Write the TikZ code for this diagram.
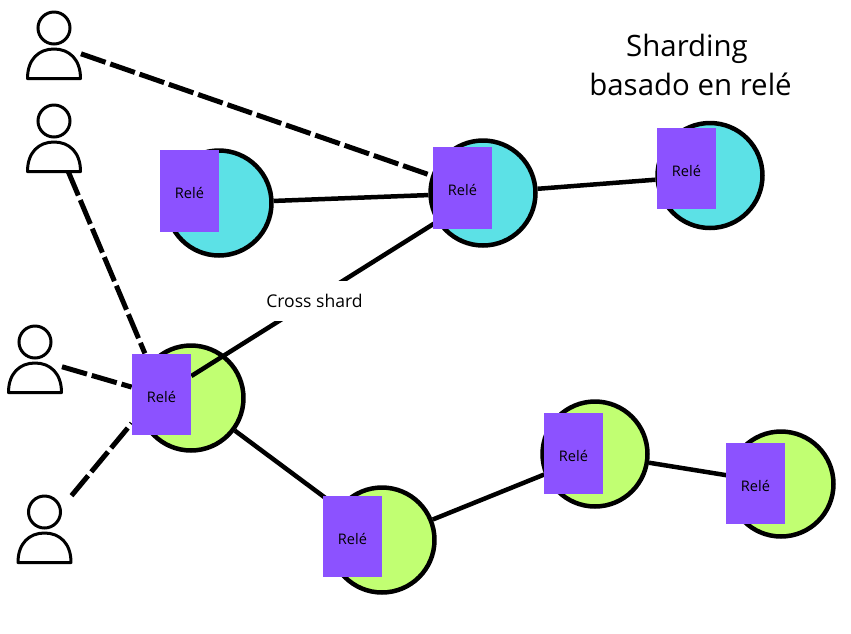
\documentclass[tikz,border=0pt]{standalone}
\usepackage{fontspec}
\setmainfont{Open Sans}
\pgfdeclarelayer{circulos}
\pgfdeclarelayer{lineas}
\pgfsetlayers{circulos,lineas,main}
\definecolor{azulnodo}{HTML}{5CE1E6}
\definecolor{verdenodo}{HTML}{C1FF72}
\definecolor{moradorele}{HTML}{8C52FF}
\tikzset{
    nodoazul/.style={circle,draw=black,line width=0.09cm,fill=azulnodo,minimum size=2.1cm,inner sep=0pt},
    nodoverde/.style={circle,draw=black,line width=0.09cm,fill=verdenodo,minimum size=2.1cm,inner sep=0pt},
    rele/.style={rectangle,fill=moradorele,minimum width=1.18cm,minimum height=1.63cm,inner sep=0pt,text height=9pt,text depth=0pt,font=\fontsize{8.3}{10}\selectfont},
    linea/.style={line width=0.09cm},
    punteada/.style={line width=0.1cm,dash pattern=on 0.52cm off 0.1cm},
    hueco/.style={minimum width=1.08cm,minimum height=1.34cm,inner sep=0pt,outer sep=0pt},
    usuario/.pic={
        \draw[line width=0.06cm] (0,-17) circle (0.32cm);
        \draw[line width=0.06cm,line join=round] (-26.5,33.5) .. controls (-26.5,14) and (-15,4) .. (0,4) .. controls (15,4) and (26.5,14) .. (26.5,33.5) -- cycle;
    }
}
\begin{document}
\begin{tikzpicture}[x=0.02cm,y=-0.02cm]
    \useasboundingbox (0,0) rectangle (851,633);

    \node[align=center,font=\fontsize{16.75}{22.7}\selectfont] (titulo) at (690.5,65) {Sharding\hspace*{0.14cm}\\basado en relé};

    \node[rele] (rb1) at (189.5,191) {Relé};
    \node[rele] (rb2) at (462.5,188) {Relé};
    \node[rele] (rb3) at (686.5,168.5) {Relé};
    \node[rele] (rg1) at (161.5,394.5) {Relé};
    \node[rele] (rg2) at (352.5,536.5) {Relé};
    \node[rele] (rg3) at (573.5,453.5) {Relé};
    \node[rele] (rg4) at (755.5,483.5) {Relé};

    \node[hueco] (u1) at (54,45) {};
    \node[hueco] (u2) at (54,138) {};
    \node[hueco] (u3) at (35,359) {};
    \node[hueco] (u4) at (44.5,529) {};
    \pic at (u1) {usuario};
    \pic at (u2) {usuario};
    \pic at (u3) {usuario};
    \pic at (u4) {usuario};

    \begin{pgfonlayer}{circulos}
        \node[nodoazul] (b1) at (219,203) {};
        \node[nodoazul] (b2) at (483,193) {};
        \node[nodoazul] (b3) at (710,175.5) {};
        \node[nodoverde] (g1) at (191,398) {};
        \node[nodoverde] (g2) at (382,540) {};
        \node[nodoverde] (g3) at (595,454) {};
        \node[nodoverde] (g4) at (781,484) {};
    \end{pgfonlayer}

    \begin{pgfonlayer}{lineas}
        \draw[linea] (b1) -- (b2);
        \draw[linea] (b2) -- (b3);
        \draw[linea] ([yshift=0.37cm]rg1.east) -- (b2.212);
        \draw[linea] (g1) -- (g2);
        \draw[linea] (g2) -- (g3);
        \draw[linea] (g3) -- (g4);

        \draw[punteada] (u1.-18) -- (rb2.158);
        \draw[punteada] (u2.-67) -- (rg1.112);
        \draw[punteada] (u3.-16) -- (rg1.166);
        \draw[punteada] (u4.51) -- (rg1.224);
    \end{pgfonlayer}

    \node[fill=white,minimum height=0.8cm,minimum width=2.3cm,inner sep=0pt,font=\fontsize{10}{12}\selectfont] (cruce) at (314.5,301) {Cross shard};
\end{tikzpicture}
\end{document}
